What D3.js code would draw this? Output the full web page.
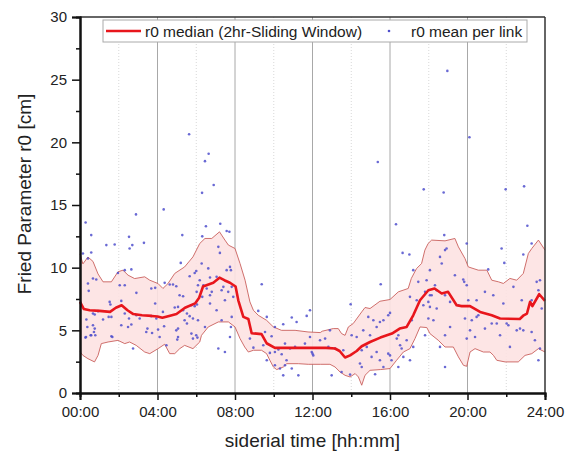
<!DOCTYPE html>
<html>
<head>
<meta charset="utf-8">
<script src="https://cdn.jsdelivr.net/npm/d3@7"></script>
<style>
  body { margin: 0; background: #fff; }
  svg text { font-family: "Liberation Sans", Arial, sans-serif; fill: #222; }
</style>
</head>
<body>
<svg width="565" height="451"></svg>
<script>
// DATA (hour of siderial day, r0 in cm)
const xTickHours = [0, 4, 8, 12, 16, 20, 24];
const xTickLabels = ["00:00", "04:00", "08:00", "12:00", "16:00", "20:00", "24:00"];
const xMinorHours = [2, 6, 10, 14, 18, 22];
const yTicks = [0, 5, 10, 15, 20, 25, 30];
const yMinorTicks = [2.5, 7.5, 12.5, 17.5, 22.5, 27.5];

const medianPts = [[0,7.27],[0.2,6.7],[0.5,6.6],[1.0,6.55],[1.55,6.47],[1.85,6.8],[2.15,7.0],[2.45,6.6],[2.75,6.3],
  [3.2,6.2],[3.7,6.15],[4.0,6.1],[4.25,6.0],[4.6,6.15],[4.98,6.3],[5.42,6.8],[5.94,7.15],[6.15,7.6],[6.35,8.5],
  [6.88,8.8],[7.2,9.2],[7.45,9.0],[7.74,8.8],[8.03,8.5],[8.17,7.4],[8.43,6.07],[8.69,5.9],[8.86,4.77],[9.37,4.7],
  [9.63,3.97],[10.06,3.6],[11,3.6],[12,3.6],[12.7,3.6],[13.16,3.55],[13.4,3.35],[13.68,2.83],[13.94,3.0],
  [14.28,3.35],[14.54,3.73],[14.97,4.07],[15.5,4.42],[16.1,4.74],[16.5,5.14],[16.86,5.27],[17.2,6.2],[17.55,7.4],
  [17.98,8.2],[18.3,8.34],[18.67,7.94],[19.0,8.07],[19.44,7.0],[19.7,6.93],[20.13,6.93],[20.65,6.47],[21.25,6.2],
  [21.68,5.94],[22.7,5.9],[22.9,6.2],[23.07,6.34],[23.23,7.27],[23.35,6.93],[23.7,7.88],[24,7.35]];

const upperPts = [[0,11.1],[0.15,10.3],[0.41,10.85],[0.67,10.5],[0.93,9.5],[1.19,8.87],[1.62,8.87],[1.96,9.67],
  [2.22,9.8],[2.48,9.4],[2.82,9.13],[3.34,9.27],[3.6,9.0],[4.03,8.73],[4.28,8.34],[4.54,8.73],[4.89,9.54],[5.4,10.06],
  [5.83,10.86],[6.18,11.93],[6.45,12.33],[6.8,12.33],[7.2,12.86],[7.48,12.2],[7.66,11.8],[8.0,11.53],[8.26,10.33],
  [8.52,9.0],[8.77,7.27],[8.95,6.6],[9.2,6.2],[9.63,5.8],[9.98,5.27],[10.4,5.0],[11.1,5.0],[11.77,4.87],[12.4,4.82],
  [12.5,4.93],[13.07,5.14],[13.33,5.14],[13.5,4.74],[13.68,4.6],[13.85,5.27],[14.1,5.54],[14.54,6.47],[14.71,6.82],
  [14.97,6.74],[15.48,7.32],[16.0,7.46],[16.43,8.07],[16.94,8.34],[17.1,9.14],[17.37,9.93],[17.63,10.33],[17.8,11.4],
  [17.97,11.93],[18.15,12.2],[18.84,12.14],[19.35,12.33],[19.53,11.66],[19.87,10.73],[20.04,10.06],[20.56,9.8],
  [21.0,9.8],[21.25,9.0],[21.6,8.87],[21.85,8.74],[22.19,9.14],[22.54,9.0],[22.88,9.54],[23.14,11.13],[23.32,11.53],
  [23.66,12.2],[24,11.4]];

const lowerPts = [[0,3.3],[0.15,3.0],[0.41,2.74],[0.75,2.48],[0.93,3.0],[1.1,3.94],[1.45,4.07],[1.96,4.2],[2.31,3.94],
  [2.56,4.07],[2.9,3.8],[3.34,3.27],[3.6,3.14],[4.03,3.54],[4.37,3.89],[4.63,3.14],[4.89,3.14],[5.15,3.54],[5.4,3.8],
  [5.83,3.54],[6.18,4.07],[6.27,4.6],[6.62,5.27],[7.14,5.67],[7.66,5.67],[8.0,5.27],[8.26,4.34],[8.5,3.67],[8.69,3.27],
  [8.95,3.41],[9.37,3.41],[9.63,3.14],[9.8,2.61],[9.98,2.08],[10.15,1.87],[10.5,2.08],[10.67,2.34],[11.27,2.34],
  [11.78,2.29],[12.4,2.29],[12.9,2.29],[13.16,2.08],[13.42,1.68],[13.68,1.41],[13.94,1.28],[14.2,1.55],[14.37,1.28],
  [14.54,0.62],[14.71,1.41],[14.97,1.81],[15.5,1.87],[16.0,1.95],[16.34,2.61],[16.69,3.27],[17.03,3.54],[17.29,4.34],
  [17.55,5.27],[17.9,5.22],[18.06,4.74],[18.49,4.21],[18.84,3.67],[19.27,3.67],[19.53,2.88],[19.79,2.21],[19.96,2.13],
  [20.13,3.27],[20.39,3.54],[20.82,3.27],[21.16,3.27],[21.34,3.0],[21.51,2.61],[21.94,2.48],[22.62,2.48],[22.97,3.0],
  [23.32,3.14],[23.66,3.54],[24,3.27]];

const meanPts = [
  [0.29,13.6],[2.89,14.25],[4.32,14.65],[5.63,20.64],[6.64,19.09],[6.45,18.5],[6.9,16.59],[6.3,15.97],[6.5,13.3],[7.24,13.5],
  [18.96,25.7],[20.1,20.4],[15.37,18.43],[17.74,16.25],[18.77,16.0],[21.97,16.25],[22.92,16.49],[16.31,13.47],[23.09,13.34],
  [0.58,12.6],[0.15,11.13],[0.58,11.21],[1.36,11.8],[1.79,11.85],[2.53,12.46],[2.56,11.53],[2.7,11.8],[3.3,11.98],
  [5.28,12.6],[6.31,12.5],[0.41,10.73],[0.67,9.14],[0.84,9.06],[0.41,8.74],[0.45,8.15],[2.05,8.6],[2.31,8.6],[2.91,7.99],
  [3.68,8.34],[3.88,8.39],[4.37,8.79],[4.63,8.66],[4.8,8.66],[4.97,8.52],[5.2,10.38],[1.96,9.58],[2.31,9.8],[2.65,9.86],
  [5.14,7.8],[5.32,7.72],[5.66,9.32],[5.92,9.58],[6.0,9.74],[6.09,8.6],[6.18,9.0],[5.75,7.0],[5.92,6.93],[6.04,7.06],
  [1.53,7.27],[1.57,7.06],[2.13,7.35],[0.67,6.34],[0.76,6.26],[0.93,6.53],[0.33,5.86],[1.62,6.07],[2.31,6.34],[2.91,6.2],
  [3.08,5.94],[3.68,6.13],[3.94,5.94],[0.38,5.27],[0.67,5.4],[0.76,5.14],[0.72,4.87],[0.79,4.61],[0.58,4.61],[0.28,4.42],
  [1.62,4.53],[1.67,4.47],[2.13,5.4],[2.53,5.94],[2.48,5.27],[2.65,5.46],[3.48,5.14],[3.42,4.87],[3.72,4.79],[4.03,5.06],
  [4.11,4.47],[4.34,5.32],[4.46,3.81],[5.06,5.14],[4.97,5.0],[5.02,4.26],[5.06,4.47],[5.4,5.81],[5.52,5.54],[5.75,4.74],
  [5.83,4.34],[6.0,4.61],[6.06,4.42],[2.74,3.55],[1.19,5.86],[1.48,6.07],[3.88,7.14],[4.28,6.47],[4.89,6.82],[5.06,6.87],
  [5.83,5.94],[6.09,5.81],[5.32,6.6],[5.52,6.34],[5.66,6.13],[0.55,4.61],[0.31,4.47],
  [7.57,12.92],[7.71,12.86],[7.14,11.66],[7.22,11.18],[6.28,10.33],[6.62,9.94],[7.74,10.06],[7.79,9.8],[7.57,9.8],
  [6.71,9.22],[7.05,9.27],[6.37,8.6],[6.54,8.34],[6.02,8.07],[6.31,7.67],[6.71,7.8],[6.8,8.07],[7.31,8.2],[7.65,8.07],
  [7.4,8.47],[7.83,8.47],[7.91,7.67],[6.71,7.14],[7.05,6.6],[7.48,7.4],[7.31,5.81],[7.83,6.07],[7.79,5.27],[6.45,5.27],
  [7.14,3.55],[7.48,3.27],[7.74,4.47],[9.38,8.68],[9.2,6.55],[9.64,6.07],[10.06,5.27],[10.49,5.49],[10.93,6.02],
  [11.18,5.67],[11.7,6.15],[11.87,6.6],[9.55,4.87],[9.89,4.53],[10.24,3.47],[10.41,3.09],[9.8,3.2],[9.64,2.61],
  [10.06,2.21],[10.49,1.41],[10.93,1.95],[11.27,1.41],[8.95,3.62],[9.46,3.81],[10.58,3.94],[10.84,3.55],[11.1,3.68],
  [11.96,3.27],[12.0,3.14],[11.87,4.47],[11.61,3.94],[12.04,3.0],[8.77,4.34],[10.06,3.27],[10.66,2.61],[10.32,1.95],
  [10.58,2.21],
  [16.65,11.18],[17.0,11.05],[15.52,8.68],[13.97,7.08],[17.2,9.8],[17.46,8.87],[17.89,9.0],[18.06,7.8],[17.03,7.67],
  [17.38,7.4],[17.72,7.0],[17.98,7.27],[16.0,6.39],[15.91,6.2],[15.66,5.81],[15.48,5.67],[15.14,5.81],[14.88,6.07],
  [15.31,5.27],[14.97,4.61],[14.62,5.0],[14.28,4.47],[14.02,4.61],[12.9,5.0],[12.65,4.34],[12.82,3.68],[13.16,3.55],
  [13.59,3.41],[14.54,3.41],[14.8,3.68],[15.05,2.88],[15.31,3.27],[15.48,2.61],[15.66,2.08],[15.91,3.14],[16.08,2.61],
  [16.35,4.34],[16.43,4.61],[16.52,3.81],[16.6,3.55],[16.86,4.21],[17.03,2.61],[17.2,3.68],[14.45,2.35],[14.54,2.08],
  [12.99,1.41],[13.5,1.68],[13.94,1.47],[15.23,1.5],[16.43,2.08],[16.69,2.88],[12.39,4.21],[16.0,3.0],[17.81,4.61],
  [17.12,5.81],
  [18.8,12.6],[18.84,11.4],[18.92,11.53],[19.96,11.93],[21.76,11.53],[23.31,11.93],[22.88,11.05],[21.9,10.38],
  [21.07,9.86],[18.06,9.8],[18.67,10.33],[18.58,10.86],[19.35,9.4],[19.78,9.06],[19.83,8.87],[19.96,8.6],[18.32,8.6],
  [18.41,8.2],[18.15,7.8],[17.81,8.07],[18.84,7.8],[19.1,7.27],[19.53,7.0],[20.04,7.4],[20.47,7.4],[20.9,8.07],
  [21.33,7.8],[21.85,7.14],[22.37,8.47],[22.8,7.4],[23.57,8.87],[23.74,9.0],[23.31,7.4],[23.66,8.2],[18.06,6.87],
  [18.41,6.74],[17.98,5.94],[18.24,5.81],[19.1,5.27],[18.84,4.61],[18.58,3.68],[18.84,2.08],[19.87,5.94],[20.22,5.81],
  [20.47,6.07],[20.56,6.2],[20.13,5.0],[19.96,4.34],[20.39,4.47],[20.9,5.14],[21.25,5.54],[21.51,5.54],[21.68,4.61],
  [22.02,5.54],[22.11,5.4],[22.19,3.68],[22.54,5.0],[22.71,5.14],[22.88,5.0],[23.31,4.87],[23.48,4.21],[23.66,2.61],
  [23.74,3.55],[23.83,6.74]
];

// LAYOUT
const PLOT = {left: 80, right: 545, top: 17, bottom: 393};
const MEDIAN_COLOR = "#e8161c";
const BAND_FILL = "#fde2e2";
const BAND_EDGE = "#c9605c";
const DOT_COLOR = "#4f4fcc";

const x = d3.scaleLinear().domain([0, 24]).range([PLOT.left, PLOT.right]);
const y = d3.scaleLinear().domain([0, 30]).range([PLOT.bottom, PLOT.top]);

const svg = d3.select("svg");

// grid lines
svg.append("g").selectAll("line")
  .data(xMinorHours).enter().append("line")
  .attr("x1", d => x(d)).attr("x2", d => x(d))
  .attr("y1", PLOT.top).attr("y2", PLOT.bottom)
  .attr("stroke", "#d8d8d8").attr("stroke-dasharray", "1,2").attr("stroke-width", 1);

svg.append("g").selectAll("line")
  .data(xTickHours.slice(1, -1)).enter().append("line")
  .attr("x1", d => x(d)).attr("x2", d => x(d))
  .attr("y1", PLOT.top).attr("y2", PLOT.bottom)
  .attr("stroke", "#a8a8a8").attr("stroke-width", 1);

// band (upper forward, lower reversed)
const line = d3.line().x(d => x(d[0])).y(d => y(d[1]));
svg.append("path")
  .attr("d", line(upperPts.concat(lowerPts.slice().reverse())) + "Z")
  .attr("fill", BAND_FILL).attr("fill-opacity", 0.9).attr("stroke", "none");
svg.append("path").attr("d", line(upperPts))
  .attr("fill", "none").attr("stroke", BAND_EDGE).attr("stroke-width", 0.9);
svg.append("path").attr("d", line(lowerPts))
  .attr("fill", "none").attr("stroke", BAND_EDGE).attr("stroke-width", 0.9);

// scatter
svg.append("g").selectAll("circle")
  .data(meanPts).enter().append("circle")
  .attr("cx", d => x(d[0])).attr("cy", d => y(d[1]))
  .attr("r", 1.3).attr("fill", DOT_COLOR).attr("fill-opacity", 0.85);

// median
svg.append("path").attr("d", line(medianPts))
  .attr("fill", "none").attr("stroke", MEDIAN_COLOR).attr("stroke-width", 2.6)
  .attr("stroke-linejoin", "round");

// frame top/right
svg.append("line").attr("x1", PLOT.left).attr("x2", PLOT.right).attr("y1", PLOT.top).attr("y2", PLOT.top)
  .attr("stroke", "#333").attr("stroke-width", 1.5);
svg.append("line").attr("x1", PLOT.right).attr("x2", PLOT.right).attr("y1", PLOT.top).attr("y2", PLOT.bottom)
  .attr("stroke", "#333").attr("stroke-width", 1.5);

// axes
const xAxis = svg.append("g").attr("transform", `translate(0,${PLOT.bottom})`)
  .call(d3.axisBottom(x).tickValues(xTickHours).tickSize(7).tickPadding(6)
    .tickFormat((d, i) => xTickLabels[i]));
const xMinor = svg.append("g").attr("transform", `translate(0,${PLOT.bottom})`)
  .call(d3.axisBottom(x).tickValues(xMinorHours).tickSize(4).tickFormat(""));
const yAxis = svg.append("g").attr("transform", `translate(${PLOT.left},0)`)
  .call(d3.axisLeft(y).tickValues(yTicks).tickSize(8).tickPadding(5));
const yMinor = svg.append("g").attr("transform", `translate(${PLOT.left},0)`)
  .call(d3.axisLeft(y).tickValues(yMinorTicks).tickSize(4).tickFormat(""));

[xAxis, xMinor, yAxis, yMinor].forEach(g => {
  g.select(".domain").attr("stroke", "#111").attr("stroke-width", 2);
  g.selectAll(".tick line").attr("stroke", "#111").attr("stroke-width", 1.5);
  g.selectAll("text").attr("font-size", 15).attr("font-family", "Liberation Sans, Arial, sans-serif").attr("fill", "#222");
});

// axis titles
svg.append("text").attr("x", (PLOT.left + PLOT.right) / 2).attr("y", 447)
  .attr("text-anchor", "middle").attr("font-size", 19).text("siderial time [hh:mm]");
svg.append("text").attr("transform", "translate(31,194) rotate(-90)")
  .attr("text-anchor", "middle").attr("font-size", 19).text("Fried Parameter r0 [cm]");

// legend
const legend = svg.append("g");
legend.append("rect").attr("x", 103).attr("y", 20).attr("width", 424).attr("height", 22)
  .attr("fill", "#fff").attr("stroke", "#aaa").attr("stroke-width", 1);
legend.append("line").attr("x1", 106).attr("x2", 141).attr("y1", 31).attr("y2", 31)
  .attr("stroke", MEDIAN_COLOR).attr("stroke-width", 2.6);
legend.append("text").attr("x", 145).attr("y", 36.5).attr("font-size", 15.5)
  .text("r0 median (2hr-Sliding Window)");
legend.append("circle").attr("cx", 389).attr("cy", 31).attr("r", 1.3).attr("fill", DOT_COLOR);
legend.append("text").attr("x", 411).attr("y", 36.5).attr("font-size", 15.5)
  .text("r0 mean per link");
</script>
</body>
</html>
